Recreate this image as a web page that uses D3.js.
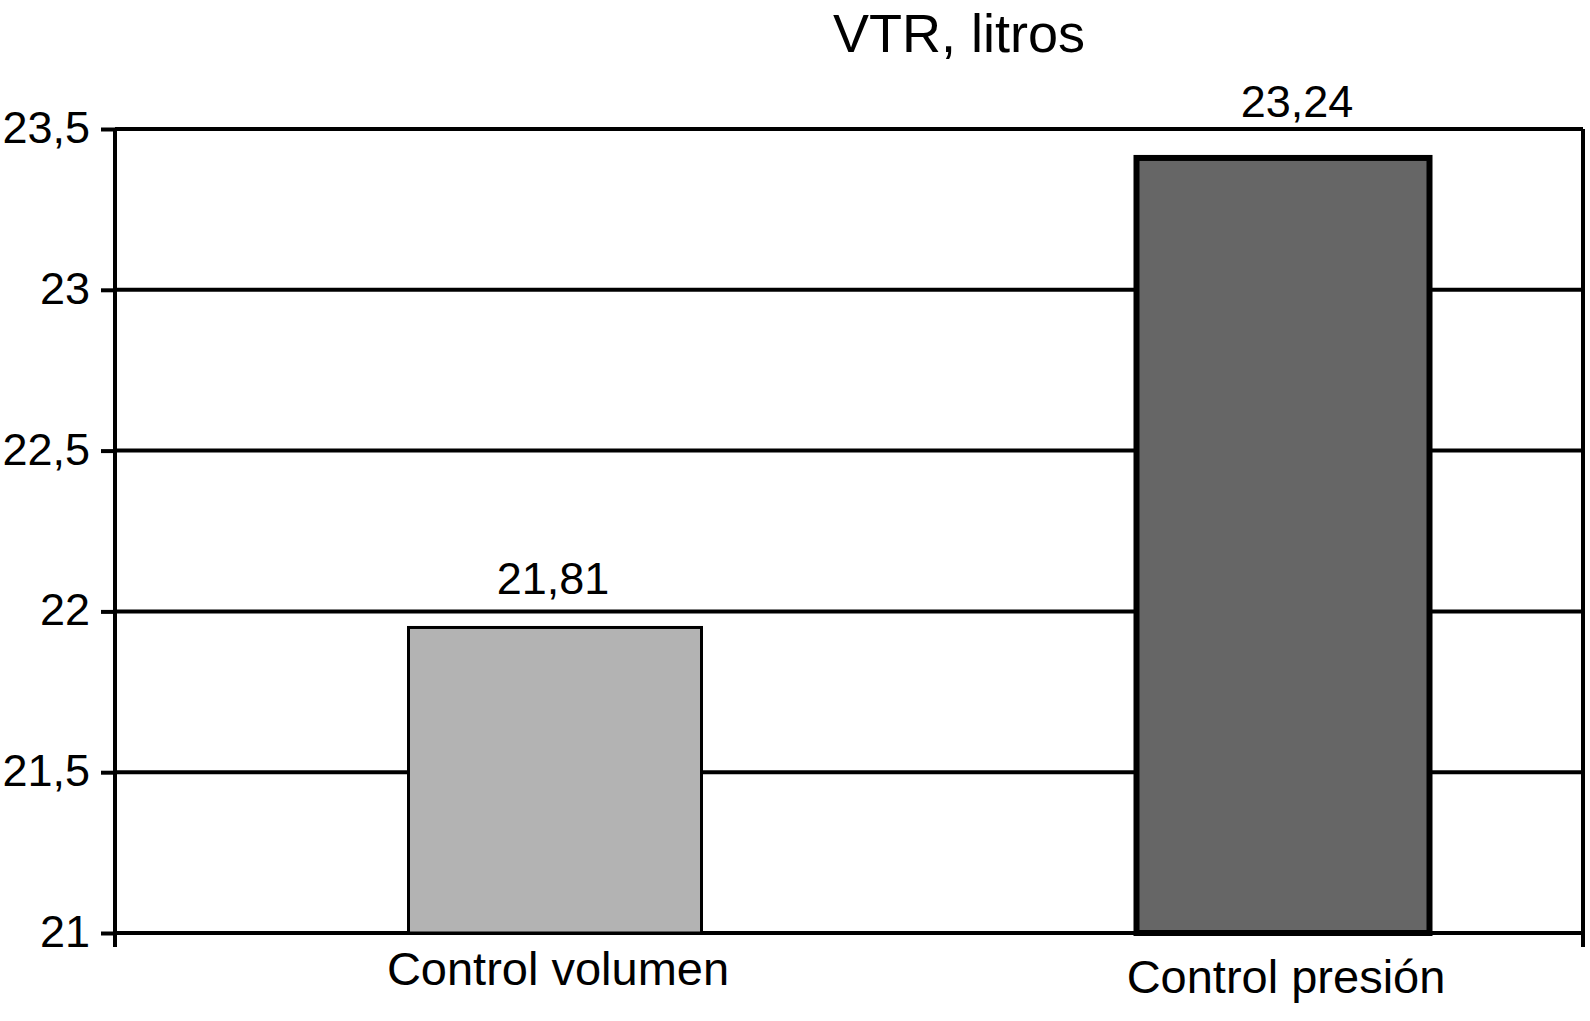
<!DOCTYPE html>
<html>
<head>
<meta charset="utf-8">
<script src="https://cdn.jsdelivr.net/npm/d3@7"></script>
<style>
  body { margin: 0; background: #fff; }
  text { font-family: "Liberation Sans", Arial, Helvetica, sans-serif; fill: #000; }
</style>
</head>
<body>
<div id="chart"></div>
<script>
// Data
const categories = ["Control volumen", "Control presión"];
const bar_values = [21.95, 23.41];          // heights as drawn
const value_labels = ["21,81", "23,24"];    // labels as printed
const bar_fills = ["#b3b3b3", "#666666"];
const bar_strokes = [3, 6];
const y_ticks = [21, 21.5, 22, 22.5, 23, 23.5];
const title = "VTR, litros";

const W = 1590, H = 1021;
const margin = {top: 129, right: 7, bottom: 88, left: 115};
const width = W - margin.left - margin.right;
const height = H - margin.top - margin.bottom;

const svg = d3.select("#chart").append("svg")
    .attr("width", W)
    .attr("height", H);

const vis = svg.append("g")
    .attr("transform", "translate(" + margin.left + "," + margin.top + ")");

const y_scale = d3.scaleLinear()
    .domain([21, 23.5])
    .range([height, 0]);

// centres of the bars
const x_scale = d3.scalePoint()
    .domain(categories)
    .range([440, 1168]);

const bar_width = 293;

// Ticks + labels of the left axis
const y_axis = d3.axisLeft(y_scale)
    .tickValues(y_ticks)
    .tickSize(14)
    .tickPadding(15)
    .tickFormat(d => String(d).replace(".", ","));

const ya = vis.append("g").call(y_axis);
ya.select(".domain").remove();
ya.selectAll(".tick line").attr("stroke", "#000").attr("stroke-width", 4);
ya.selectAll(".tick text")
    .attr("font-size", 45)
    .attr("dy", "0.3em")
    .attr("x", -25);

// Gridlines
vis.append("g")
    .selectAll("line")
    .data(y_ticks)
    .join("line")
    .attr("x1", 0)
    .attr("x2", width)
    .attr("y1", d => y_scale(d))
    .attr("y2", d => y_scale(d))
    .attr("stroke", "#000")
    .attr("stroke-width", 4);

// Bars
vis.append("g")
    .selectAll("rect")
    .data(bar_values)
    .join("rect")
    .attr("x", (d, i) => x_scale(categories[i]) - bar_width / 2)
    .attr("width", bar_width)
    .attr("y", d => y_scale(d))
    .attr("height", d => y_scale(21) - y_scale(d))
    .attr("fill", (d, i) => bar_fills[i])
    .attr("stroke", "#000")
    .attr("stroke-width", (d, i) => bar_strokes[i]);

// Value labels
vis.append("g")
    .selectAll("text")
    .data(bar_values)
    .join("text")
    .attr("x", (d, i) => x_scale(categories[i]) + (i ? 14 : -2))
    .attr("y", (d, i) => y_scale(d) - (i ? 41 : 33))
    .attr("text-anchor", "middle")
    .attr("font-size", 45)
    .text((d, i) => value_labels[i]);

// Axis frame: left and right
vis.append("line")
    .attr("x1", 0).attr("x2", 0)
    .attr("y1", 0).attr("y2", height + 14)
    .attr("stroke", "#000").attr("stroke-width", 4);
vis.append("line")
    .attr("x1", width).attr("x2", width)
    .attr("y1", 0).attr("y2", height + 14)
    .attr("stroke", "#000").attr("stroke-width", 4);

// Category labels
vis.append("g")
    .selectAll("text")
    .data(categories)
    .join("text")
    .attr("x", d => x_scale(d) + 3)
    .attr("y", (d, i) => height + 52 + i * 8)
    .attr("text-anchor", "middle")
    .attr("font-size", 47)
    .text(d => d);

// Title
svg.append("text")
    .attr("x", 959)
    .attr("y", 52)
    .attr("text-anchor", "middle")
    .attr("font-size", 54)
    .text(title);
</script>
</body>
</html>
